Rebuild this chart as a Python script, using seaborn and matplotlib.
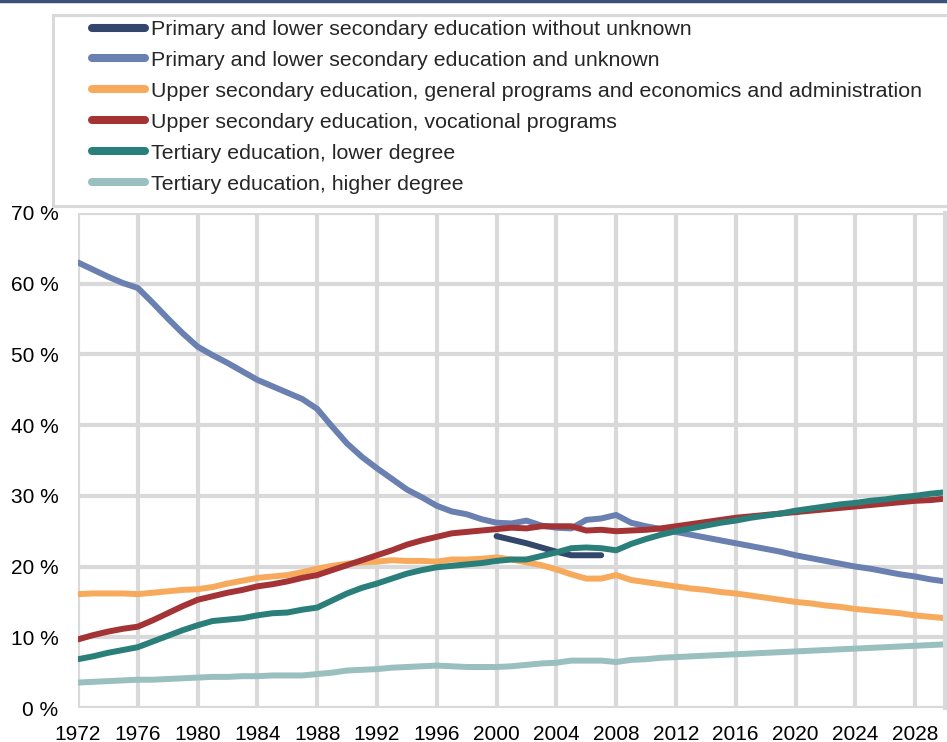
import numpy as np
import pandas as pd
import matplotlib
matplotlib.use("Agg")
import matplotlib.pyplot as plt
from matplotlib.patches import Rectangle
from matplotlib.lines import Line2D
import seaborn as sns

# Data (share of population, %)
years = list(range(1972, 2031))

primary_without_unknown = [None] * 28 + [24.3, 23.8, 23.3, 22.7, 22.1, 21.6, 21.6, 21.6] + [None] * 23

primary_and_unknown = [
    63.0, 62.0, 61.0, 60.1, 59.4, 57.3, 55.1, 53.0, 51.1, 49.9,
    48.8, 47.6, 46.4, 45.5, 44.6, 43.7, 42.3, 39.8, 37.4, 35.5,
    33.9, 32.4, 30.9, 29.8, 28.6, 27.8, 27.4, 26.7, 26.2, 26.1,
    26.5, 25.8, 25.5, 25.4, 26.6, 26.8, 27.3, 26.2, 25.7, 25.3,
    24.9, 24.5, 24.1, 23.7, 23.3, 22.9, 22.5, 22.1, 21.6, 21.2,
    20.8, 20.4, 20.0, 19.7, 19.3, 18.9, 18.6, 18.2, 17.9]

upper_general = [
    16.1, 16.2, 16.2, 16.2, 16.1, 16.3, 16.5, 16.7, 16.8, 17.1,
    17.6, 18.0, 18.4, 18.6, 18.8, 19.2, 19.7, 20.1, 20.4, 20.6,
    20.7, 20.9, 20.8, 20.8, 20.7, 21.0, 21.0, 21.1, 21.3, 21.0,
    20.6, 20.2, 19.6, 18.9, 18.3, 18.3, 18.8, 18.1, 17.8, 17.5,
    17.2, 16.9, 16.7, 16.4, 16.2, 15.9, 15.6, 15.3, 15.0, 14.8,
    14.5, 14.3, 14.0, 13.8, 13.6, 13.4, 13.1, 12.9, 12.7]

upper_vocational = [
    9.7, 10.3, 10.8, 11.2, 11.5, 12.4, 13.4, 14.4, 15.3, 15.8,
    16.3, 16.7, 17.2, 17.5, 17.9, 18.4, 18.8, 19.5, 20.2, 20.9,
    21.6, 22.3, 23.1, 23.7, 24.2, 24.7, 24.9, 25.1, 25.3, 25.5,
    25.4, 25.7, 25.7, 25.7, 25.1, 25.2, 25.0, 25.1, 25.2, 25.4,
    25.7, 26.0, 26.3, 26.6, 26.9, 27.1, 27.3, 27.5, 27.7, 27.9,
    28.1, 28.3, 28.5, 28.7, 28.9, 29.1, 29.3, 29.4, 29.6]

tertiary_lower = [
    6.9, 7.3, 7.8, 8.2, 8.6, 9.4, 10.2, 11.0, 11.7, 12.3,
    12.5, 12.7, 13.1, 13.4, 13.5, 13.9, 14.2, 15.2, 16.2, 17.0,
    17.6, 18.3, 19.0, 19.5, 19.9, 20.1, 20.3, 20.5, 20.8, 21.0,
    21.0, 21.5, 22.0, 22.6, 22.7, 22.6, 22.3, 23.2, 23.9, 24.5,
    25.0, 25.4, 25.8, 26.2, 26.5, 26.9, 27.2, 27.5, 27.9, 28.2,
    28.5, 28.8, 29.0, 29.3, 29.5, 29.8, 30.0, 30.3, 30.5]

tertiary_higher = [
    3.6, 3.7, 3.8, 3.9, 4.0, 4.0, 4.1, 4.2, 4.3, 4.4,
    4.4, 4.5, 4.5, 4.6, 4.6, 4.6, 4.8, 5.0, 5.3, 5.4,
    5.5, 5.7, 5.8, 5.9, 6.0, 5.9, 5.8, 5.8, 5.8, 5.9,
    6.1, 6.3, 6.4, 6.7, 6.7, 6.7, 6.5, 6.8, 6.9, 7.1,
    7.2, 7.3, 7.4, 7.5, 7.6, 7.7, 7.8, 7.9, 8.0, 8.1,
    8.2, 8.3, 8.4, 8.5, 8.6, 8.7, 8.8, 8.9, 9.0]

series_names = [
    "Primary and lower secondary education without unknown",
    "Primary and lower secondary education and unknown",
    "Upper secondary education, general programs and economics and administration",
    "Upper secondary education, vocational programs",
    "Tertiary education, lower degree",
    "Tertiary education, higher degree",
]
series_values = [primary_without_unknown, primary_and_unknown, upper_general,
                 upper_vocational, tertiary_lower, tertiary_higher]
colors = ["#33466b", "#6a80b1", "#f7aa5c", "#a33335", "#2a7f7a", "#99bfbf"]

df = pd.DataFrame({name: pd.to_numeric(pd.Series(vals), errors="coerce")
                   for name, vals in zip(series_names, series_values)})
df["year"] = years

sns.set_style("white")
plt.rcParams["font.family"] = ["Liberation Sans", "DejaVu Sans"]

grid_color = "#d9d9d9"

fig = plt.figure(figsize=(9.47, 7.42), dpi=100)
ax = fig.add_axes([78 / 947, 1 - 708 / 742, 867 / 947, (708 - 213) / 742])

for name, color in zip(series_names, colors):
    sub = df[["year", name]].dropna()
    sns.lineplot(data=sub, x="year", y=name, color=color, linewidth=4.3,
                 ax=ax, solid_capstyle="round", legend=False)

ax.set_xlim(1972, 2030)
ax.set_ylim(0, 70)
ax.set_xticks(range(1972, 2030, 4))
ax.set_yticks(range(0, 71, 10))
ax.set_yticklabels([f"{v} %" for v in range(0, 71, 10)])
ax.set_xlabel("")
ax.set_ylabel("")
ax.grid(True, color=grid_color, linewidth=3)
ax.set_axisbelow(True)
for side, s in ax.spines.items():
    s.set_visible(side == "right")
ax.spines["right"].set_color(grid_color)
ax.spines["right"].set_linewidth(3)
ax.tick_params(axis="both", length=0, labelsize=15, colors="black")
ax.tick_params(axis="y", pad=14)
ax.tick_params(axis="x", pad=12)

# legend frame extending past the right edge
fig.patches.append(Rectangle((53 / 947, 1 - 206 / 742), 1.0, (206 - 15) / 742,
                             transform=fig.transFigure, facecolor="white",
                             edgecolor=grid_color, linewidth=2.2, zorder=0))
handles = [Line2D([0], [0], color=c, linewidth=5.8, solid_capstyle="round") for c in colors]
fig.legend(handles, series_names, loc="upper left",
           bbox_to_anchor=(92 / 947, 1 - 20 / 742), frameon=False,
           fontsize=15.4, handlelength=2.5, handletextpad=0.26,
           labelspacing=0.56, borderaxespad=0, borderpad=0)

# dark rule at the very top
fig.add_artist(Line2D([0, 1], [1 - 1 / 742, 1 - 1 / 742], transform=fig.transFigure,
                      color="#3b4f78", linewidth=2.5))

fig.savefig("out.png", dpi=100)
